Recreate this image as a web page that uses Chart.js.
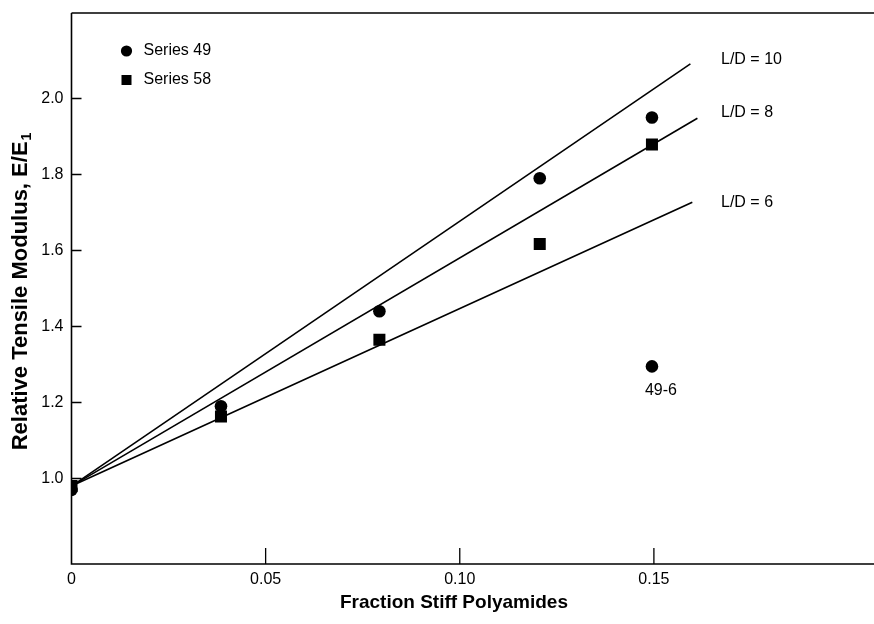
<!DOCTYPE html>
<html>
<head>
<meta charset="utf-8">
<script src="https://cdn.jsdelivr.net/npm/chart.js@4.4.1/dist/chart.umd.min.js"></script>
<style>
  html, body { margin: 0; padding: 0; background: #ffffff; }
  #wrap { width: 874px; height: 624px; }
</style>
</head>
<body>
<div id="wrap"><canvas id="chart" width="874" height="624"></canvas></div>
<script>
// Measured relative tensile modulus vs. fraction of stiff polyamide
const series49X = [0, 0.0385, 0.0793, 0.1206, 0.1495];
const series49Y = [0.97, 1.19, 1.44, 1.79, 1.95];
const series58X = [0, 0.0385, 0.0793, 0.1206, 0.1495];
const series58Y = [0.98, 1.163, 1.365, 1.617, 1.879];

// Off-trend sample from series 49
const outlierX = [0.1495];
const outlierY = [1.295];
const outlierName = '49-6';

// Predicted moduli for three aspect ratios (straight lines)
const curveNames = ['L/D = 10', 'L/D = 8', 'L/D = 6'];
const curveX = [[0, 0.1594], [0, 0.1612], [0, 0.1599]];
const curveY = [[0.98, 2.091], [0.98, 1.948], [0.98, 1.727]];

// Axis ticks and titles
const xTickValues = [0, 0.05, 0.10, 0.15];
const xTickLabels = ['0', '0.05', '0.10', '0.15'];
const yTickValues = [1.0, 1.2, 1.4, 1.6, 1.8, 2.0];
const yTickLabels = ['1.0', '1.2', '1.4', '1.6', '1.8', '2.0'];
const xTitle = 'Fraction Stiff Polyamides';
const yTitle = 'Relative Tensile Modulus, E/E';
const yTitleSub = '1';

const FONT = '"Liberation Sans", Arial, Helvetica, sans-serif';
const INK = '#000000';

const toPoints = (xs, ys) => xs.map((x, i) => ({ x: x, y: ys[i] }));

const datasets = [];
curveNames.forEach((name, i) => {
  datasets.push({
    label: name,
    data: toPoints(curveX[i], curveY[i]),
    showLine: true,
    borderColor: INK,
    borderWidth: 1.6,
    pointRadius: 0,
    fill: false
  });
});
datasets.push({
  label: 'Series 49',
  data: toPoints(series49X, series49Y),
  showLine: false,
  pointStyle: 'circle',
  pointRadius: 6.3,
  backgroundColor: INK,
  borderColor: INK,
  borderWidth: 0
});
datasets.push({
  label: 'Series 58',
  data: toPoints(series58X, series58Y),
  showLine: false,
  pointStyle: 'rect',
  pointRadius: 8.5,
  backgroundColor: INK,
  borderColor: INK,
  borderWidth: 0
});
datasets.push({
  label: outlierName,
  data: toPoints(outlierX, outlierY),
  showLine: false,
  pointStyle: 'circle',
  pointRadius: 6.3,
  backgroundColor: INK,
  borderColor: INK,
  borderWidth: 0
});

// Frame, inward ticks, axis titles, legend and in-plot annotations
const decorations = {
  id: 'decorations',
  afterDatasetsDraw(chart) {
    const ctx = chart.ctx;
    const area = chart.chartArea;
    const xs = chart.scales.x;
    const ys = chart.scales.y;
    const W = chart.width;
    ctx.save();
    ctx.strokeStyle = INK;
    ctx.lineWidth = 1.6;
    ctx.beginPath();
    ctx.moveTo(area.left, area.top);
    ctx.lineTo(area.left, area.bottom);
    ctx.lineTo(W, area.bottom);
    ctx.moveTo(area.left, area.top);
    ctx.lineTo(W, area.top);
    ctx.stroke();

    // inward tick marks
    ctx.lineWidth = 1.3;
    ctx.beginPath();
    yTickValues.forEach(v => {
      const py = ys.getPixelForValue(v);
      ctx.moveTo(area.left, py);
      ctx.lineTo(area.left + 10, py);
    });
    xTickValues.forEach(v => {
      if (v === 0) return;
      const px = xs.getPixelForValue(v);
      ctx.moveTo(px, area.bottom);
      ctx.lineTo(px, area.bottom - 16);
    });
    ctx.stroke();

    ctx.fillStyle = INK;

    // axis titles
    ctx.textAlign = 'center';
    ctx.textBaseline = 'middle';
    ctx.font = 'bold 19px ' + FONT;
    ctx.fillText(xTitle, xs.getPixelForValue(0.0985), 603);

    ctx.save();
    ctx.translate(21, 292);
    ctx.rotate(-Math.PI / 2);
    ctx.font = 'bold 22px ' + FONT;
    const mainW = ctx.measureText(yTitle).width;
    ctx.font = 'bold 14px ' + FONT;
    const subW = ctx.measureText(yTitleSub).width;
    const start = -(mainW + subW) / 2;
    ctx.textAlign = 'left';
    ctx.font = 'bold 22px ' + FONT;
    ctx.fillText(yTitle, start, 0);
    ctx.font = 'bold 14px ' + FONT;
    ctx.fillText(yTitleSub, start + mainW + 1, 6);
    ctx.restore();

    // legend
    ctx.font = '16px ' + FONT;
    ctx.textBaseline = 'middle';
    ctx.textAlign = 'left';
    const lx = area.left + 55;
    const ly1 = area.top + 38;
    const ly2 = area.top + 67;
    ctx.beginPath();
    ctx.arc(lx, ly1, 5.6, 0, Math.PI * 2);
    ctx.fill();
    ctx.fillRect(lx - 5, ly2 - 5, 10, 10);
    ctx.fillText(datasets[3].label, lx + 17, ly1);
    ctx.fillText(datasets[4].label, lx + 17, ly2);

    // curve labels in a column right of the line ends
    const nudge = [-4, -6, 0];
    curveNames.forEach((name, i) => {
      const ey = ys.getPixelForValue(curveY[i][1]);
      ctx.fillText(name, 721, ey + nudge[i]);
    });

    // outlier label
    const ox = xs.getPixelForValue(outlierX[0]);
    const oy = ys.getPixelForValue(outlierY[0]);
    ctx.fillText(outlierName, ox - 7, oy + 24);
    ctx.restore();
  }
};

new Chart(document.getElementById('chart'), {
  type: 'scatter',
  data: { datasets: datasets },
  options: {
    responsive: false,
    animation: false,
    devicePixelRatio: 1,
    layout: { padding: { left: 0, top: 13, right: 0, bottom: 0 } },
    plugins: {
      legend: { display: false },
      tooltip: { enabled: false }
    },
    scales: {
      x: {
        type: 'linear',
        min: 0,
        max: 0.2045,
        grid: { display: false, drawTicks: false },
        border: { display: false },
        afterBuildTicks: s => { s.ticks = xTickValues.map(v => ({ value: v })); },
        afterFit: s => { s.height = 60; s.paddingLeft = 0; s.paddingRight = 0; },
        ticks: {
          color: INK,
          padding: 6,
          maxRotation: 0,
          autoSkip: false,
          font: { family: FONT, size: 16 },
          callback: v => xTickLabels[xTickValues.findIndex(t => Math.abs(t - v) < 1e-9)]
        },
        title: { display: false }
      },
      y: {
        type: 'linear',
        min: 0.775,
        max: 2.225,
        grid: { display: false, drawTicks: false },
        border: { display: false },
        afterBuildTicks: s => { s.ticks = yTickValues.map(v => ({ value: v })); },
        afterFit: s => { s.width = 71.5; s.paddingTop = 0; s.paddingBottom = 0; },
        ticks: {
          color: INK,
          padding: 8,
          autoSkip: false,
          font: { family: FONT, size: 16 },
          callback: v => yTickLabels[yTickValues.findIndex(t => Math.abs(t - v) < 1e-9)]
        },
        title: { display: false }
      }
    }
  },
  plugins: [decorations]
});
</script>
</body>
</html>
